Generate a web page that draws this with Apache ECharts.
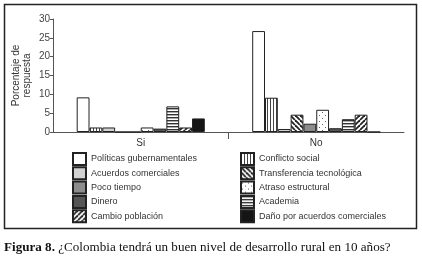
<!DOCTYPE html>
<html><head><meta charset="utf-8">
<script src="https://cdn.jsdelivr.net/npm/echarts@6/dist/echarts.min.js"></script>
<style>html,body{margin:0;padding:0;background:#fff}#c{width:422px;height:260px}</style>
</head><body><div id="c"></div>
<script>
const categories = ['Si', 'No'];
const seriesNames = ['Políticas gubernamentales', 'Conflicto social', 'Acuerdos comerciales', 'Transferencia tecnológica', 'Poco tiempo', 'Atraso estructural', 'Dinero', 'Academia', 'Cambio población', 'Daño por acuerdos comerciales'];
const politicas = [9.2, 26.8];
const conflicto = [1.2, 9.1];
const acuerdos = [1.2, 0.8];
const transferencia = [0, 4.6];
const pocoTiempo = [0, 2.2];
const atraso = [1.2, 5.9];
const dinero = [0.9, 1.0];
const academia = [6.8, 3.4];
const cambio = [1.2, 4.6];
const dano = [3.6, 0];
const yTicks = [0, 5, 10, 15, 20, 25, 30];

function pat(w, h, draw) {
  const c = document.createElement('canvas');
  c.width = w; c.height = h;
  const g = c.getContext('2d');
  g.fillStyle = '#fff'; g.fillRect(0, 0, w, h);
  g.fillStyle = '#222'; g.strokeStyle = '#222';
  draw(g);
  return { image: c, repeat: 'repeat' };
}
const vLines = pat(3, 3, g => { g.fillStyle = '#444'; g.fillRect(0, 0, 1, 3); });
const hLines = pat(3, 3, g => { g.fillStyle = '#333'; g.fillRect(0, 0, 3, 1.4); });
const dots = pat(6, 6, g => { g.fillStyle = '#666'; g.fillRect(1, 1, 1, 1); g.fillRect(4, 4, 1, 1); });
function diag(back) {
  return pat(5, 5, g => {
    g.lineWidth = 1.8;
    for (let k = -5; k <= 10; k += 5) {
      g.beginPath();
      if (back) { g.moveTo(k, 0); g.lineTo(k + 5, 5); }
      else { g.moveTo(k, 5); g.lineTo(k + 5, 0); }
      g.stroke();
    }
  });
}
const colors = ['#ffffff', vLines, '#d2d2d2', diag(true), '#8c8c8c', dots, '#555555', hLines, diag(false), '#151515'];
const values = [politicas, conflicto, acuerdos, transferencia, pocoTiempo, atraso, dinero, academia, cambio, dano];

const chart = echarts.init(document.getElementById('c'));
const series = seriesNames.map((n, i) => ({
  name: n, type: 'bar', data: values[i], barGap: '0%', barCategoryGap: '27%',
  xAxisIndex: 0,
  itemStyle: { color: colors[i], borderColor: '#222', borderWidth: 1 },
  emphasis: { disabled: true }, animation: false
}));
const legendText = { fontFamily: 'Liberation Sans, Arial', fontSize: 9, color: '#333', lineHeight: 12 };
const legendBase = { orient: 'vertical', icon: 'rect', itemWidth: 13, itemHeight: 12, itemGap: 0.3, padding: 0, selectedMode: false, textStyle: legendText };
chart.setOption({
  animation: false,
  textStyle: { fontFamily: 'Liberation Sans, Arial' },
  grid: { left: 53, right: 18, top: 19, bottom: 128, containLabel: false, outerBoundsMode: 'none' },
  xAxis: [{
    type: 'category', data: categories,
    axisLine: { lineStyle: { color: '#555', width: 1 } },
    axisTick: { show: false },
    axisLabel: { fontSize: 10, color: '#333', margin: 6 }
  }, {
    type: 'value', position: 'bottom', min: 0, max: 2,
    axisLine: { show: false },
    axisTick: { show: true, length: 7, customValues: [1], lineStyle: { color: '#555' } },
    axisLabel: { show: false },
    splitLine: { show: false }
  }],
  yAxis: {
    type: 'value', min: yTicks[0], max: yTicks[yTicks.length - 1], interval: 5,
    name: 'Porcentaje de\nrespuesta', nameLocation: 'middle', nameRotate: 90, nameGap: 20, nameMoveOverlap: false,
    nameTextStyle: { fontSize: 10, color: '#333', lineHeight: 11 },
    axisLine: { show: true, lineStyle: { color: '#555' } },
    axisTick: { show: true, length: 3, lineStyle: { color: '#555' } },
    axisLabel: { fontSize: 10, color: '#444', margin: 3 },
    splitLine: { show: false }
  },
  legend: [
    Object.assign({ left: 72, top: 152, data: [seriesNames[0], seriesNames[2], seriesNames[4], seriesNames[6], seriesNames[8]] }, legendBase),
    Object.assign({ left: 240, top: 152, data: [seriesNames[1], seriesNames[3], seriesNames[5], seriesNames[7], seriesNames[9]] }, legendBase)
  ],
  graphic: [
    { type: 'rect', shape: { x: 4.5, y: 4.5, width: 412, height: 224 }, style: { fill: 'none', stroke: '#222', lineWidth: 1.5 }, silent: true },
    { type: 'text', left: 4, top: 241, style: { rich: { b: { fontFamily: 'Liberation Serif, serif', fontWeight: 'bold', fontSize: 13.1, fill: '#111' }, n: { fontFamily: 'Liberation Serif, serif', fontSize: 13.1, fill: '#111' } },
      text: '{b|Figura 8.} {n|¿Colombia tendrá un buen nivel de desarrollo rural en 10 años?}' } }
  ],
  series: series
});
</script></body></html>
